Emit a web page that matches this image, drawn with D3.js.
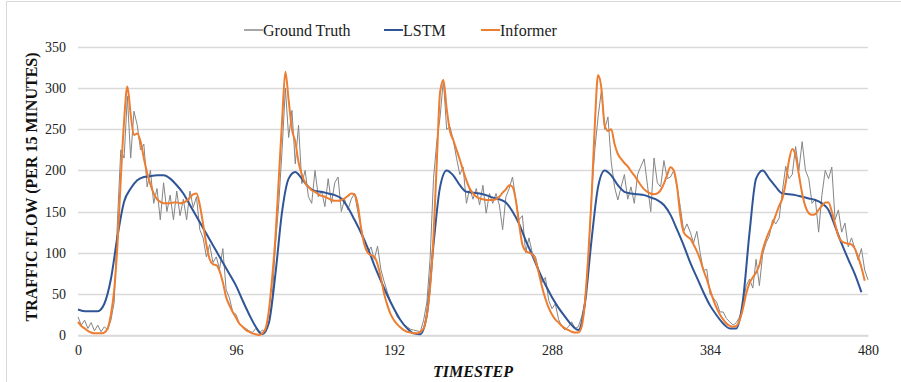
<!DOCTYPE html>
<html>
<head>
<meta charset="utf-8">
<script src="https://cdn.jsdelivr.net/npm/d3@7"></script>
<style>
  body { margin: 0; background: #fff; }
  text { font-family: "Liberation Serif", "Times New Roman", serif; }
</style>
</head>
<body>
<div id="chart"></div>
<script>
// ground truth, one value every 2 timesteps (0..480)
const truthValues = [
  22, 12, 18, 8, 15, 5, 12, 4, 10, 6, 18, 40, 140, 225, 215, 290, 215, 272, 255, 225,
  232, 180, 200, 160, 178, 140, 185, 150, 170, 140, 175, 145, 165, 140, 175, 155, 168, 128, 118, 95,
  110, 88, 95, 80, 105, 55, 45, 28, 25, 14, 10, 8, 5, 3, 8, 2, 6, 4, 15, 45,
  110, 160, 225, 300, 240, 273, 208, 255, 184, 200, 168, 160, 200, 168, 175, 156, 190, 160, 185, 192,
  150, 165, 152, 165, 172, 150, 130, 112, 100, 107, 92, 108, 80, 65, 52, 40, 32, 22, 18, 13,
  10, 7, 6, 5, 4, 18, 40, 95, 190, 235, 265, 310, 250, 253, 237, 215, 195, 204, 160, 178,
  165, 178, 158, 182, 148, 172, 160, 172, 158, 128, 168, 178, 192, 165, 140, 145, 100, 118, 100, 95,
  78, 64, 70, 42, 32, 38, 19, 10, 6, 10, 16, 8, 10, 22, 40, 90, 170, 225, 265, 297,
  250, 265, 210, 180, 164, 180, 195, 165, 180, 160, 195, 205, 214, 182, 150, 215, 185, 180, 212, 190,
  192, 200, 180, 155, 126, 135, 125, 112, 126, 100, 78, 80, 50, 45, 40, 28, 28, 20, 16, 12,
  15, 22, 38, 60, 68, 57, 92, 60, 98, 112, 120, 140, 135, 142, 175, 205, 190, 195, 229, 200,
  235, 200, 190, 160, 165, 125, 170, 200, 190, 204, 140, 152, 125, 136, 107, 118, 105, 91, 105, 79,
  67
];

// LSTM prediction, one value every 4 timesteps (0..476)
const lstmValues = [
  31, 29, 29, 29, 38, 68, 120, 162, 178, 188, 192, 193, 194, 194, 190, 182, 172, 158, 144, 130,
  116, 102, 88, 74, 60, 42, 25, 10, 1, 15, 75, 150, 190, 198, 190, 180, 175, 174, 172, 170,
  166, 155, 140, 124, 106, 85, 66, 48, 32, 18, 8, 2, 1, 25, 110, 180, 200, 194, 182, 174,
  173, 172, 170, 167, 165, 161, 150, 135, 115, 97, 78, 61, 46, 33, 22, 12, 6, 38, 115, 180,
  200, 194, 182, 174, 172, 171, 170, 167, 164, 158, 146, 128, 109, 88, 70, 52, 36, 24, 14, 8,
  8, 42, 124, 190, 200, 190, 180, 172, 171, 170, 168, 166, 164, 160, 152, 132, 111, 92, 74, 52
];

// Informer prediction, one value every 2 timesteps (0..478)
const informerValues = [
  16, 11, 8, 5, 3, 2, 2, 2, 3, 8, 25, 55, 110, 190, 260, 302, 268, 243, 245, 235,
  215, 197, 183, 172, 165, 162, 160, 160, 160, 161, 161, 160, 161, 163, 167, 171, 172, 158, 135, 110,
  92, 86, 85, 78, 64, 46, 36, 28, 21, 14, 10, 6, 4, 2, 1, 0, 2, 8, 30, 70,
  120, 190, 260, 320, 285, 250, 235, 210, 195, 185, 180, 176, 174, 171, 169, 168, 166, 164, 163, 163,
  164, 166, 169, 172, 171, 158, 130, 110, 100, 97, 95, 86, 70, 50, 36, 25, 18, 13, 9, 6,
  4, 3, 2, 2, 4, 8, 25, 60, 120, 210, 295, 310, 275, 248, 237, 225, 213, 200, 188, 178,
  172, 168, 166, 165, 164, 164, 164, 165, 168, 173, 177, 182, 180, 164, 135, 110, 102, 100, 98, 90,
  75, 58, 44, 33, 25, 19, 15, 11, 8, 6, 4, 3, 3, 10, 40, 95, 165, 255, 316, 300,
  255, 248, 250, 232, 220, 214, 209, 205, 199, 194, 188, 182, 177, 174, 172, 171, 172, 176, 184, 195,
  204, 200, 180, 145, 125, 120, 117, 110, 102, 92, 79, 68, 55, 43, 33, 25, 19, 14, 11, 10,
  11, 18, 32, 50, 63, 70, 76, 85, 103, 116, 126, 135, 146, 157, 166, 185, 212, 226, 218, 195,
  172, 156, 148, 146, 147, 152, 157, 161, 161, 150, 135, 120, 114, 112, 111, 110, 105, 95, 82, 66
];

const xTicks = [0, 96, 192, 288, 384, 480];
const yTicks = [0, 50, 100, 150, 200, 250, 300, 350];
const seriesNames = ["Ground Truth", "LSTM", "Informer"];
const seriesColors = ["#858585", "#2f5597", "#ed7d31"];

const width = 901, height = 382;
const margin = { top: 47, right: 33, bottom: 47, left: 78 };

const svg = d3.select("#chart").append("svg")
    .attr("width", width)
    .attr("height", height);

// chart frame: only its top and left edges fall inside the picture
svg.append("path")
    .attr("d", `M6.5,${height}V1.5H${width}`)
    .attr("fill", "none")
    .attr("stroke", "#d9d9d9");

const x = d3.scaleLinear().domain([0, 480]).range([margin.left, width - margin.right]);
const y = d3.scaleLinear().domain([0, 350]).range([height - margin.bottom, margin.top]);

// gridlines
svg.append("g")
    .selectAll("line")
    .data(yTicks)
    .join("line")
        .attr("x1", x(0)).attr("x2", x(480))
        .attr("y1", d => Math.round(y(d)) + 0.5)
        .attr("y2", d => Math.round(y(d)) + 0.5)
        .attr("stroke", "#d9d9d9")
        .attr("stroke-width", 1.3);

// axes
const xAxis = svg.append("g")
    .attr("transform", `translate(0,${Math.round(y(0)) + 0.5})`)
    .call(d3.axisBottom(x).tickValues(xTicks).tickSize(0).tickPadding(10));
xAxis.select(".domain").attr("stroke", "#d9d9d9").attr("stroke-width", 1.3);
xAxis.selectAll("text").attr("font-size", 14).attr("fill", "#222")
    .style("font-family", "Liberation Serif");

const yAxis = svg.append("g")
    .attr("transform", `translate(${x(0)},0)`)
    .call(d3.axisLeft(y).tickValues(yTicks).tickSize(0).tickPadding(12));
yAxis.select(".domain").remove();
yAxis.selectAll("text").attr("font-size", 14).attr("fill", "#222")
    .style("font-family", "Liberation Serif");

// series
const truth = truthValues.map((v, i) => [i * 2, v]);
const lstm = lstmValues.map((v, i) => [i * 4, v]);
const informer = informerValues.map((v, i) => [i * 2, v]);

const line = d3.line().x(d => x(d[0])).y(d => y(d[1]));
const smooth = d3.line().x(d => x(d[0])).y(d => y(d[1])).curve(d3.curveMonotoneX);

svg.append("path").datum(truth)
    .attr("d", line)
    .attr("fill", "none")
    .attr("stroke", seriesColors[0])
    .attr("stroke-width", 1)
    .attr("stroke-linejoin", "round");

svg.append("path").datum(lstm)
    .attr("d", smooth)
    .attr("fill", "none")
    .attr("stroke", seriesColors[1])
    .attr("stroke-width", 2);

svg.append("path").datum(informer)
    .attr("d", smooth)
    .attr("fill", "none")
    .attr("stroke", seriesColors[2])
    .attr("stroke-width", 2);

// legend
const legendX = [244, 384, 481];
const legend = svg.append("g")
    .selectAll("g")
    .data(seriesNames)
    .join("g")
        .attr("transform", (d, i) => `translate(${legendX[i]},30)`);
legend.append("line")
    .attr("x1", 0).attr("x2", 19)
    .attr("stroke", (d, i) => i === 0 ? "#a6a6a6" : seriesColors[i])
    .attr("stroke-width", 2);
legend.append("text")
    .attr("x", 19).attr("dy", "0.35em")
    .attr("font-size", 16)
    .attr("fill", "#222")
    .text(d => d);

// axis titles
svg.append("text")
    .attr("transform", "translate(37,187) rotate(-90)")
    .attr("text-anchor", "middle")
    .attr("font-size", 16)
    .attr("font-weight", "bold")
    .attr("fill", "#111")
    .text("TRAFFIC FLOW (PER 15 MINUTES)");

svg.append("text")
    .attr("x", (x(0) + x(480)) / 2)
    .attr("y", 377)
    .attr("text-anchor", "middle")
    .attr("font-size", 16)
    .attr("font-weight", "bold")
    .attr("font-style", "italic")
    .attr("fill", "#111")
    .text("TIMESTEP");
</script>
</body>
</html>
